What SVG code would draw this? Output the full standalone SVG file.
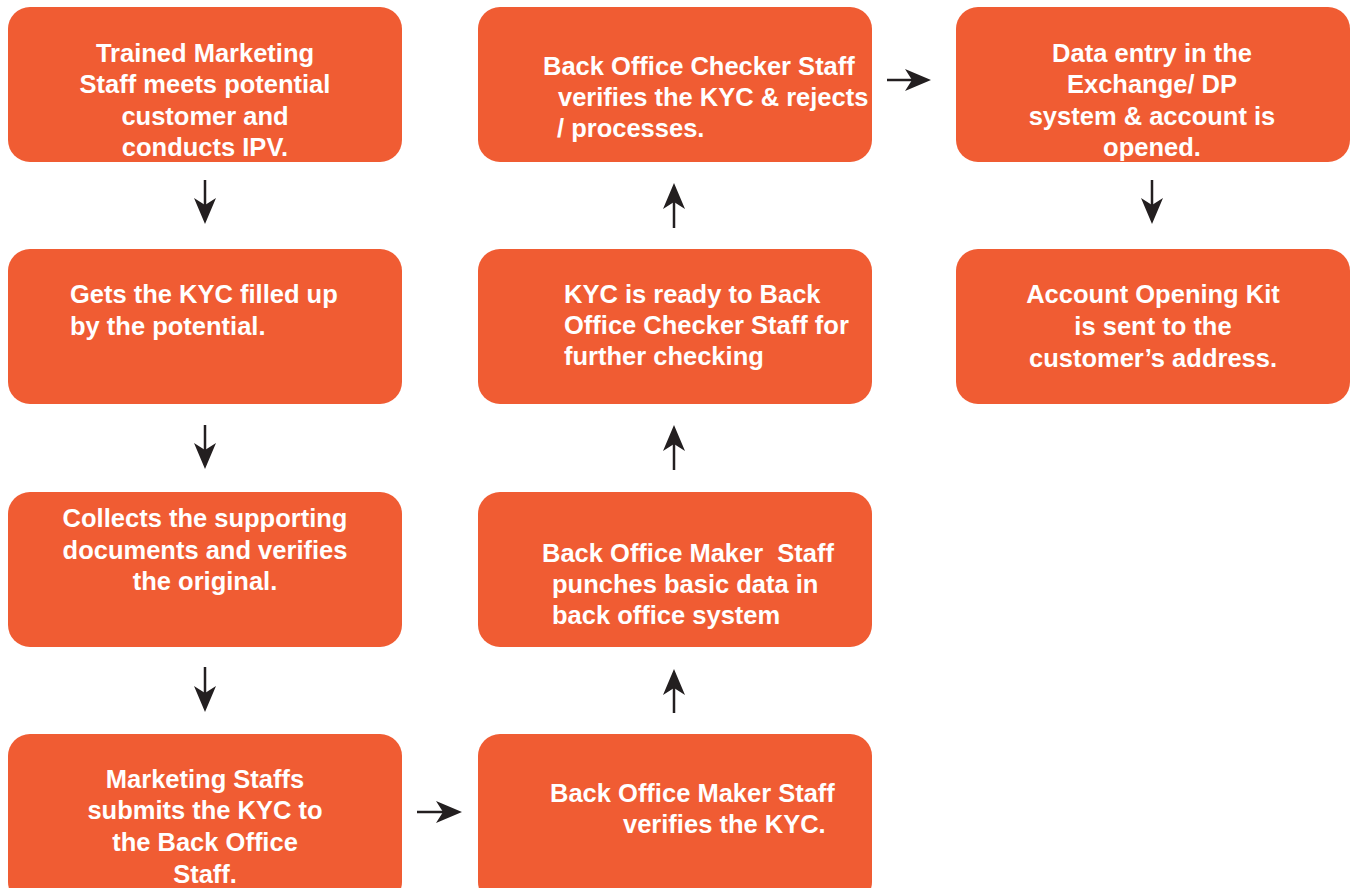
<svg xmlns="http://www.w3.org/2000/svg" width="1351" height="888" viewBox="0 0 1351 888">
<defs>
<style>
.box{fill:#F05C33;}
.t{font-family:"Liberation Sans",Arial,sans-serif;font-weight:bold;font-size:25.5px;fill:#FFFFFF;}
.c{text-anchor:middle;}
.conn{stroke:#231F20;stroke-width:2.5;fill:none;marker-end:url(#ah);}
</style>
<marker id="ah" markerUnits="userSpaceOnUse" markerWidth="30" markerHeight="26" viewBox="0 -13 28 26" refX="7" refY="0" orient="auto">
<path d="M26,0 L0,-11 L7,0 L0,11 Z" fill="#231F20"/>
</marker>
</defs>
<rect width="1351" height="888" fill="#FFFFFF"/>

<g id="connectors">
<path class="conn" d="M205,180 V205"/>
<path class="conn" d="M205,425 V450"/>
<path class="conn" d="M205,667 V693"/>
<path class="conn" d="M417,812 H443"/>
<path class="conn" d="M674,713 V688"/>
<path class="conn" d="M674,470 V444"/>
<path class="conn" d="M674,228 V202"/>
<path class="conn" d="M887,80 H912"/>
<path class="conn" d="M1152,180 V205"/>
</g>

<g id="n1">
<rect class="box" x="8" y="7" width="394" height="155" rx="22"/>
<text class="t c"><tspan x="205" y="62">Trained Marketing</tspan><tspan x="205" y="93">Staff meets potential</tspan><tspan x="205" y="125">customer and</tspan><tspan x="205" y="156">conducts IPV.</tspan></text>
</g>
<g id="n2">
<rect class="box" x="8" y="249" width="394" height="155" rx="22"/>
<text class="t"><tspan x="70" y="303">Gets the KYC filled up</tspan><tspan x="70" y="335">by the potential.</tspan></text>
</g>
<g id="n3">
<rect class="box" x="8" y="492" width="394" height="155" rx="22"/>
<text class="t c"><tspan x="205" y="527">Collects the supporting</tspan><tspan x="205" y="559">documents and verifies</tspan><tspan x="205" y="590">the original.</tspan></text>
</g>
<g id="n4">
<rect class="box" x="8" y="734" width="394" height="170" rx="22"/>
<text class="t c"><tspan x="205" y="788">Marketing Staffs</tspan><tspan x="205" y="819">submits the KYC to</tspan><tspan x="205" y="851">the Back Office</tspan><tspan x="205" y="883">Staff.</tspan></text>
</g>
<g id="n5">
<rect class="box" x="478" y="734" width="394" height="170" rx="22"/>
<text class="t"><tspan x="550" y="802">Back Office Maker Staff</tspan><tspan x="623" y="833">verifies the KYC.</tspan></text>
</g>
<g id="n6">
<rect class="box" x="478" y="492" width="394" height="155" rx="22"/>
<text class="t" xml:space="preserve" style="white-space:pre"><tspan x="542" y="562">Back Office Maker  Staff</tspan><tspan x="552" y="593">punches basic data in</tspan><tspan x="552" y="624">back office system</tspan></text>
</g>
<g id="n7">
<rect class="box" x="478" y="249" width="394" height="155" rx="22"/>
<text class="t"><tspan x="564" y="303">KYC is ready to Back</tspan><tspan x="564" y="334">Office Checker Staff for</tspan><tspan x="564" y="365">further checking</tspan></text>
</g>
<g id="n8">
<rect class="box" x="478" y="7" width="394" height="155" rx="22"/>
<text class="t"><tspan x="543" y="75">Back Office Checker Staff</tspan><tspan x="558" y="106">verifies the KYC &amp; rejects</tspan><tspan x="557" y="137">/ processes.</tspan></text>
</g>
<g id="n9">
<rect class="box" x="956" y="7" width="394" height="155" rx="22"/>
<text class="t c"><tspan x="1152" y="62">Data entry in the</tspan><tspan x="1152" y="93">Exchange/ DP</tspan><tspan x="1152" y="125">system &amp; account is</tspan><tspan x="1152" y="156">opened.</tspan></text>
</g>
<g id="n10">
<rect class="box" x="956" y="249" width="394" height="155" rx="22"/>
<text class="t c"><tspan x="1153" y="303">Account Opening Kit</tspan><tspan x="1153" y="335">is sent to the</tspan><tspan x="1153" y="367">customer’s address.</tspan></text>
</g>
</svg>
